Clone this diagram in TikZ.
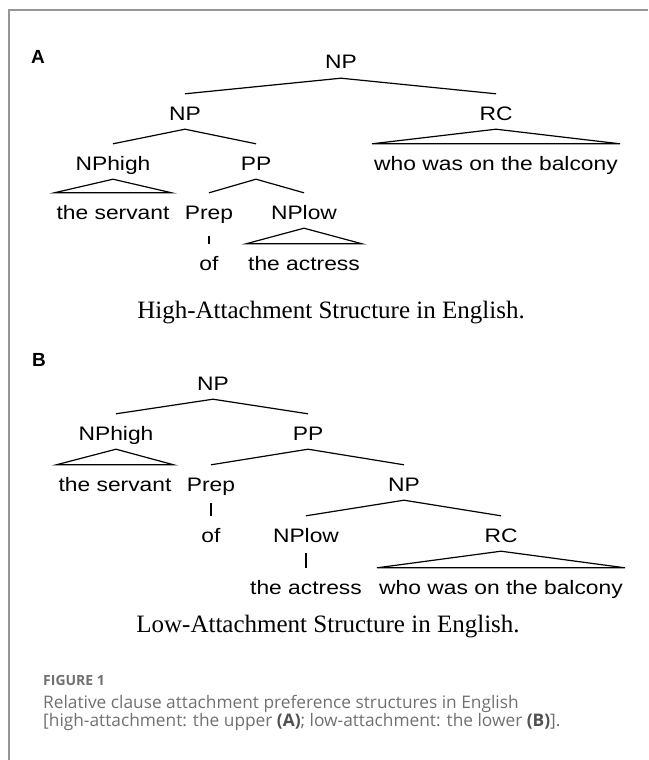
\documentclass[tikz,border=0pt]{standalone}
\usepackage{fontspec}
\newfontfamily\treefont[FakeStretch=1.17]{Liberation Sans}
\newfontfamily\panelfont{Liberation Sans}
\newfontfamily\titlefont{Liberation Serif}
\newfontfamily\notefont{Open Sans}
\usepackage{xcolor}
\definecolor{notegray}{RGB}{112,112,112}
\definecolor{notedark}{RGB}{80,80,80}
\definecolor{framegray}{RGB}{150,150,150}

\begin{document}
\begin{tikzpicture}[x=1pt,y=-1pt]
\tikzstyle{cat} = [anchor=base, inner xsep=2pt, inner ysep=9pt,
text height=17pt, text depth=0pt, font=\treefont\fontsize{19.5}{20}\selectfont]
\tikzstyle{panel} = [anchor=center, inner sep=0pt, font=\panelfont\bfseries\fontsize{19}{20}\selectfont]
\tikzstyle{title} = [anchor=base, inner sep=0pt, font=\titlefont\fontsize{25}{30}\selectfont]
\tikzstyle{note} = [anchor=base west, inner sep=0pt, text=notegray, font=\notefont\fontsize{17.3}{18}\selectfont]
\tikzstyle{line} = [draw, line width=1.2pt];
\useasboundingbox (0,0) rectangle (648,760);
\draw[framegray, line width=1.5pt] (9,760) -- (9,10) -- (648,10);

% panel A: high attachment
\node [panel] (labA) at (38,57) {A};
\node [cat] (npA) at (341,69) {NP};
% row 1
\node [cat] (nplA) at (185,120) {NP};
\node [cat] (rcA) at (496,120) {RC};
% row 2
\node [cat] (nphighA) at (113,170) {NPhigh};
\node [cat] (ppA) at (256,170) {PP};
\node [cat] (whoA) at (496,170) {who was on the balcony};
% row 3
\node [cat] (servantA) at (113,219) {the servant};
\node [cat] (prepA) at (209,219) {Prep};
\node [cat] (nplowA) at (304,219) {NPlow};
% row 4
\node [cat] (ofA) at (209,270) {of};
\node [cat] (actressA) at (304,270) {the actress};
\node [title] (capA) at (331,318) {High-Attachment Structure in English.};

\path[line] (nplA.north) -- (npA.south) -- (rcA.north);
\path[line] (nphighA.north) -- (nplA.south) -- (ppA.north);
\path[line] (rcA.south) -- (whoA.north east) -- (whoA.north west) -- cycle;
\path[line] (nphighA.south) -- (servantA.north east) -- (servantA.north west) -- cycle;
\path[line] (prepA.north) -- (ppA.south) -- (nplowA.north);
\path[line, shorten <=8pt] (prepA.south) -- (ofA.north);
\path[line] (nplowA.south) -- (actressA.north east) -- (actressA.north west) -- cycle;

% panel B: low attachment
\node [panel] (labB) at (39,360) {B};
\node [cat] (npB) at (213,390) {NP};
% row 1
\node [cat] (nphighB) at (116,440) {NPhigh};
\node [cat] (ppB) at (308,440) {PP};
% row 2
\node [cat] (servantB) at (115,491) {the servant};
\node [cat] (prepB) at (211,491) {Prep};
\node [cat] (np2B) at (404,491) {NP};
% row 3
\node [cat] (ofB) at (211,542) {of};
\node [cat] (nplowB) at (306,542) {NPlow};
\node [cat] (rcB) at (501,542) {RC};
% row 4
\node [cat] (actressB) at (306,594) {the actress};
\node [cat] (whoB) at (501,594) {who was on the balcony};
\node [title] (capB) at (328,632) {Low-Attachment Structure in English.};

\path[line] (nphighB.north) -- (npB.south) -- (ppB.north);
\path[line] (nphighB.south) -- (servantB.north east) -- (servantB.north west) -- cycle;
\path[line] (prepB.north) -- (ppB.south) -- (np2B.north);
\path[line, shorten <=3pt] (prepB.south) -- (ofB.north);
\path[line] (nplowB.north) -- (np2B.south) -- (rcB.north);
\path[line, shorten <=2pt] (nplowB.south) -- (actressB.north);
\path[line] (rcB.south) -- (whoB.north east) -- (whoB.north west) -- cycle;

% figure caption
\node [note, font=\notefont\bfseries\fontsize{14}{16}\selectfont] (figno) at (43,685) {FIGURE 1};
\node [note] (noteA) at (43,708) {Relative clause attachment preference structures in English};
\node [note] (noteB) at (43,726) {[high-attachment: the upper \textcolor{notedark}{\textbf{(A)}}; low-attachment: the lower \textcolor{notedark}{\textbf{(B)}}].};
\end{tikzpicture}
\end{document}
